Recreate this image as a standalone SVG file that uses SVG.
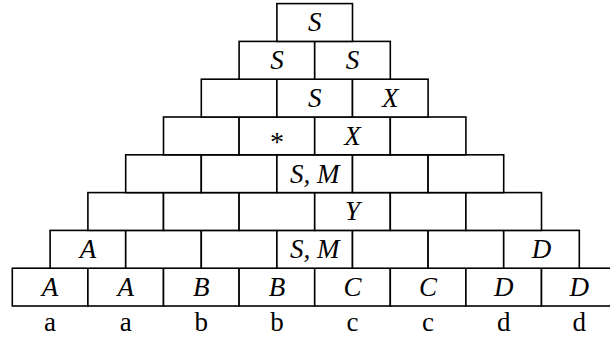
<svg xmlns="http://www.w3.org/2000/svg" width="610" height="338" viewBox="0 0 610 338">
<style>
rect.c{fill:#fff;stroke:#000;stroke-width:1.6}
</style>
<rect width="610" height="338" fill="#fff"/>
<g font-family="Liberation Serif, Times New Roman, serif" font-size="27" text-anchor="middle" fill="#000">
<g font-style="italic">
<g id="row0">
<g id="c0_0"><rect class="c" x="12.3" y="268.2" width="75.6" height="37.8"/><text x="50.1" y="296">A</text></g>
<g id="c0_1"><rect class="c" x="87.9" y="268.2" width="75.6" height="37.8"/><text x="125.7" y="296">A</text></g>
<g id="c0_2"><rect class="c" x="163.5" y="268.2" width="75.6" height="37.8"/><text x="201.3" y="296">B</text></g>
<g id="c0_3"><rect class="c" x="239.1" y="268.2" width="75.6" height="37.8"/><text x="276.9" y="296">B</text></g>
<g id="c0_4"><rect class="c" x="314.7" y="268.2" width="75.6" height="37.8"/><text x="352.5" y="296">C</text></g>
<g id="c0_5"><rect class="c" x="390.3" y="268.2" width="75.6" height="37.8"/><text x="428.1" y="296">C</text></g>
<g id="c0_6"><rect class="c" x="465.9" y="268.2" width="75.6" height="37.8"/><text x="503.7" y="296">D</text></g>
<g id="c0_7"><rect class="c" x="541.5" y="268.2" width="75.6" height="37.8"/><text x="579.3" y="296">D</text></g>
</g>
<g id="row1">
<g id="c1_0"><rect class="c" x="50.1" y="230.4" width="75.6" height="37.8"/><text x="87.9" y="258.2">A</text></g>
<g id="c1_1"><rect class="c" x="125.7" y="230.4" width="75.6" height="37.8"/></g>
<g id="c1_2"><rect class="c" x="201.3" y="230.4" width="75.6" height="37.8"/></g>
<g id="c1_3"><rect class="c" x="276.9" y="230.4" width="75.6" height="37.8"/><text x="314.7" y="258.2">S, M</text></g>
<g id="c1_4"><rect class="c" x="352.5" y="230.4" width="75.6" height="37.8"/></g>
<g id="c1_5"><rect class="c" x="428.1" y="230.4" width="75.6" height="37.8"/></g>
<g id="c1_6"><rect class="c" x="503.7" y="230.4" width="75.6" height="37.8"/><text x="541.5" y="258.2">D</text></g>
</g>
<g id="row2">
<g id="c2_0"><rect class="c" x="87.9" y="192.6" width="75.6" height="37.8"/></g>
<g id="c2_1"><rect class="c" x="163.5" y="192.6" width="75.6" height="37.8"/></g>
<g id="c2_2"><rect class="c" x="239.1" y="192.6" width="75.6" height="37.8"/></g>
<g id="c2_3"><rect class="c" x="314.7" y="192.6" width="75.6" height="37.8"/><text x="352.5" y="220.4">Y</text></g>
<g id="c2_4"><rect class="c" x="390.3" y="192.6" width="75.6" height="37.8"/></g>
<g id="c2_5"><rect class="c" x="465.9" y="192.6" width="75.6" height="37.8"/></g>
</g>
<g id="row3">
<g id="c3_0"><rect class="c" x="125.7" y="154.8" width="75.6" height="37.8"/></g>
<g id="c3_1"><rect class="c" x="201.3" y="154.8" width="75.6" height="37.8"/></g>
<g id="c3_2"><rect class="c" x="276.9" y="154.8" width="75.6" height="37.8"/><text x="314.7" y="182.6">S, M</text></g>
<g id="c3_3"><rect class="c" x="352.5" y="154.8" width="75.6" height="37.8"/></g>
<g id="c3_4"><rect class="c" x="428.1" y="154.8" width="75.6" height="37.8"/></g>
</g>
<g id="row4">
<g id="c4_0"><rect class="c" x="163.5" y="117" width="75.6" height="37.8"/></g>
<g id="c4_1"><rect class="c" x="239.1" y="117" width="75.6" height="37.8"/><text x="276.9" y="151" font-style="normal" font-size="28">*</text></g>
<g id="c4_2"><rect class="c" x="314.7" y="117" width="75.6" height="37.8"/><text x="352.5" y="144.8">X</text></g>
<g id="c4_3"><rect class="c" x="390.3" y="117" width="75.6" height="37.8"/></g>
</g>
<g id="row5">
<g id="c5_0"><rect class="c" x="201.3" y="79.2" width="75.6" height="37.8"/></g>
<g id="c5_1"><rect class="c" x="276.9" y="79.2" width="75.6" height="37.8"/><text x="314.7" y="107">S</text></g>
<g id="c5_2"><rect class="c" x="352.5" y="79.2" width="75.6" height="37.8"/><text x="390.3" y="107">X</text></g>
</g>
<g id="row6">
<g id="c6_0"><rect class="c" x="239.1" y="41.4" width="75.6" height="37.8"/><text x="276.9" y="69.2">S</text></g>
<g id="c6_1"><rect class="c" x="314.7" y="41.4" width="75.6" height="37.8"/><text x="352.5" y="69.2">S</text></g>
</g>
<g id="row7">
<g id="c7_0"><rect class="c" x="276.9" y="3.6" width="75.6" height="37.8"/><text x="314.7" y="31.4">S</text></g>
</g>
</g>
<g id="terminals">
<text x="50.1" y="330.5">a</text>
<text x="125.7" y="330.5">a</text>
<text x="201.3" y="330.5">b</text>
<text x="276.9" y="330.5">b</text>
<text x="352.5" y="330.5">c</text>
<text x="428.1" y="330.5">c</text>
<text x="503.7" y="330.5">d</text>
<text x="579.3" y="330.5">d</text>
</g>
</g>
</svg>
